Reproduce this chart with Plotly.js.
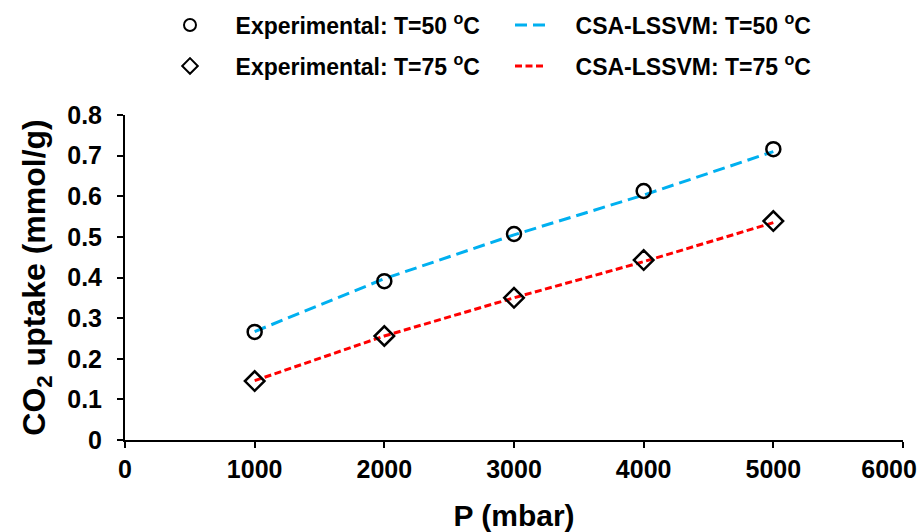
<!DOCTYPE html>
<html>
<head>
<meta charset="utf-8">
<script src="https://cdn.plot.ly/plotly-3.0.1.min.js"></script>
<style>html,body{margin:0;padding:0;background:#fff;}#chart{width:922px;height:532px;}</style>
</head>
<body>
<div id="chart"></div>
<script>
const pressure = [1000, 2000, 3000, 4000, 5000];
const exp50 = [0.266, 0.391, 0.507, 0.613, 0.716];
const exp75 = [0.145, 0.256, 0.350, 0.443, 0.539];
const csa50 = [0.267, 0.397, 0.505, 0.603, 0.710];
const csa75 = [0.146, 0.256, 0.350, 0.439, 0.535];
const xTicks = [0, 1000, 2000, 3000, 4000, 5000, 6000];
const xTickText = ['0', '1000', '2000', '3000', '4000', '5000', '6000'];
const yTicks = [0, 0.1, 0.2, 0.3, 0.4, 0.5, 0.6, 0.7, 0.8];
const yTickText = ['0', '0.1', '0.2', '0.3', '0.4', '0.5', '0.6', '0.7', '0.8'];

const FONT = 'Arial, "Liberation Sans", sans-serif';
const pad = '\u00a0\u00a0\u00a0\u00a0';
// last x label is pulled inward like the reference (kept inside the frame)
const xLabels = xTickText.map((t, i) => i === xTickText.length - 1 ? t + '\u00a0\u00a0\u00a0\u00a0' : t);

const traces = [
  {x: pressure, y: csa50, mode: 'lines', name: pad + 'CSA-LSSVM: T=50 <sup>o</sup>C', legend: 'legend2',
   line: {color: '#00b0f0', width: 3, dash: '12px,6px'}},
  {x: pressure, y: csa75, mode: 'lines', name: pad + 'CSA-LSSVM: T=75 <sup>o</sup>C', legend: 'legend4',
   line: {color: '#ff0000', width: 3, dash: '7px,3.5px'}},
  {x: pressure, y: exp50, mode: 'markers', name: pad + 'Experimental: T=50 <sup>o</sup>C', legend: 'legend',
   marker: {symbol: 'circle-open', size: 14, color: '#000', line: {width: 2.5, color: '#000'}}},
  {x: pressure, y: exp75, mode: 'markers', name: pad + 'Experimental: T=75 <sup>o</sup>C', legend: 'legend3',
   marker: {symbol: 'diamond-open', size: 15, color: '#000', line: {width: 2.5, color: '#000'}}}
];

function leg(xpx, ypx, sizing) {
  return {xref: 'container', yref: 'container', x: xpx / 922, y: 1 - ypx / 532,
    xanchor: 'left', yanchor: 'middle', orientation: 'h', bgcolor: 'rgba(0,0,0,0)',
    borderwidth: 0, itemsizing: sizing,
    font: {family: FONT, size: 23, color: '#000', weight: 'bold'}};
}

const layout = {
  width: 922, height: 532,
  paper_bgcolor: '#fff', plot_bgcolor: '#fff',
  margin: {l: 125, r: 19, t: 115, b: 92},
  font: {family: FONT, color: '#000'},
  showlegend: true,
  legend: leg(170, 25, 'constant'),
  legend2: leg(510, 25, 'trace'),
  legend3: leg(170, 66, 'constant'),
  legend4: leg(510, 66, 'trace'),
  xaxis: {
    range: [0, 6000], tickvals: xTicks, ticktext: xLabels, ticklabeloverflow: 'allow',
    showgrid: false, zeroline: false, showline: true, linecolor: '#000', linewidth: 2,
    ticks: 'outside', ticklen: 6, tickwidth: 2, tickcolor: '#000',
    tickfont: {family: FONT, size: 25, color: '#000', weight: 'bold'},
    title: {text: 'P (mbar)', font: {family: FONT, size: 30, color: '#000', weight: 'bold'}, standoff: 26}
  },
  yaxis: {
    range: [0, 0.8], tickvals: yTicks, ticktext: yTickText,
    showgrid: false, zeroline: false, showline: true, linecolor: '#000', linewidth: 2,
    ticks: 'outside', ticklen: 6, tickwidth: 2, tickcolor: '#000',
    ticklabelstandoff: 10,
    tickfont: {family: FONT, size: 25, color: '#000', weight: 'bold'},
    title: {text: 'CO<sub>2</sub> uptake (mmol/g)', font: {family: FONT, size: 32, color: '#000', weight: 'bold'}, standoff: 12}
  }
};

Plotly.newPlot('chart', traces, layout, {displayModeBar: false, staticPlot: true});
</script>
</body>
</html>
